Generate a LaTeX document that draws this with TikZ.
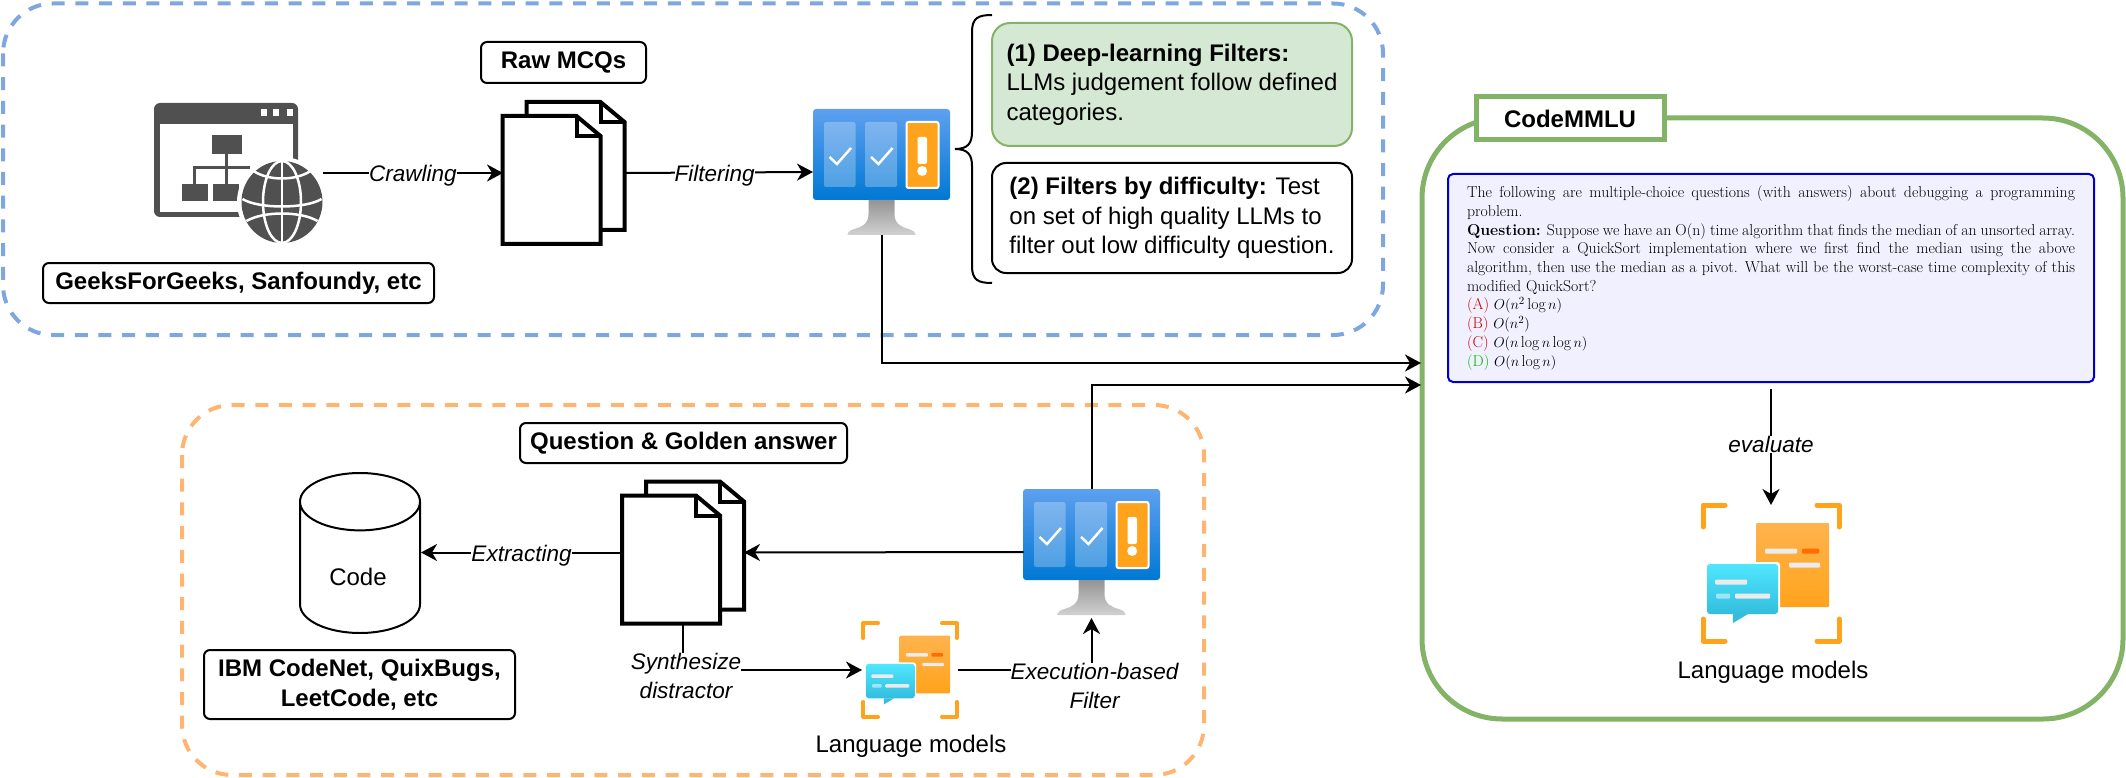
\documentclass[tikz,border=0pt]{standalone}
\usepackage{fontspec}
\usepackage{amsmath}
\usepackage{xcolor}
\usepackage{tikz}
\usetikzlibrary{arrows.meta,shapes.geometric}
\newfontfamily\diagfont{Liberation Sans}
\definecolor{dashblue}{HTML}{7EA6E0}
\definecolor{dashorange}{HTML}{FFB570}
\definecolor{framegreen}{HTML}{82B366}
\definecolor{fillgreen}{HTML}{D5E8D4}
\definecolor{iconorange}{HTML}{FFA31C}
\definecolor{iconorangetop}{HTML}{FFB34D}
\definecolor{icongray}{HTML}{505050}
\definecolor{screentop}{HTML}{5EA0EF}
\definecolor{screenbottom}{HTML}{0078D4}
\definecolor{bubbletop}{HTML}{50E6FF}
\definecolor{bubblebottom}{HTML}{32BEDD}
\definecolor{questionblue}{HTML}{0000CC}
\definecolor{questionfill}{HTML}{F0F0FF}
\definecolor{wrongred}{HTML}{CC0000}
\definecolor{rightgreen}{HTML}{00BB00}
\tikzset{
  dashgroup/.style={line width=4pt,dash pattern=on 13pt off 10.7pt,rounded corners=50pt},
  tagbox/.style={draw,line width=2pt,rounded corners=6pt,fill=white,align=center,inner sep=0pt,
    font={\diagfont\bfseries\fontsize{24}{30}\selectfont}},
  notebox/.style={rounded corners=18pt,inner sep=0pt,minimum width=360pt,align=left,
    font={\diagfont\fontsize{24}{29.7}\selectfont}},
  flowlabel/.style={fill=white,inner sep=0pt,yshift=-3pt,align=center,font={\diagfont\itshape\fontsize{22.5}{28.5}\selectfont}},
  plaintext/.style={inner sep=0pt,font={\diagfont\fontsize{24}{30}\selectfont}},
  flowline/.style={line width=2pt,-{Stealth[length=16pt,width=17pt,inset=5pt]}},
  iconspot/.style={inner sep=0pt,outer sep=0pt},
  docpair/.pic={
    \foreach \dx/\dy in {24/-14,0/0}{
      \draw[line width=4pt,fill=white] (-61+\dx,-57+\dy) -- (13+\dx,-57+\dy) -- (37+\dx,-37+\dy)
        -- (37+\dx,71+\dy) -- (-61+\dx,71+\dy) -- cycle;
      \draw[line width=4pt] (13+\dx,-57+\dy) -- (13+\dx,-37+\dy) -- (37+\dx,-37+\dy);
    }
  },
  filtericon/.pic={
    \shade[top color=screentop,bottom color=screenbottom,rounded corners=3pt] (-68.5,-63) rectangle (68.5,28);
    \shade[top color=black!42,bottom color=black!18] (-13,28) -- (-13,42) .. controls (-13,52) and (-20,55) .. (-27,57)
      .. controls (-31,58) and (-34,60) .. (-34,63) -- (34,63) .. controls (34,60) and (31,58) .. (27,57)
      .. controls (20,55) and (13,52) .. (13,42) -- (13,28) -- cycle;
    \fill[white,opacity=.27,rounded corners=2pt] (-57.5,-50) rectangle (-26,15);
    \fill[white,opacity=.27,rounded corners=2pt] (-16.5,-50) rectangle (15.5,15);
    \draw[white,line width=2pt,fill=iconorange,rounded corners=2pt] (25,-50) rectangle (57,16);
    \fill[white,rounded corners=2pt] (36,-35) rectangle (45.5,-8);
    \fill[white] (40.7,-1) circle (5pt);
    \draw[white,line width=2.5pt] (-52,-15) -- (-44.5,-8) -- (-30.5,-24);
    \draw[white,line width=2.5pt] (-10.5,-15) -- (-3,-8) -- (11,-24);
  },
  llmicon/.pic={
    \foreach \sx/\sy in {1/1,-1/1,1/-1,-1/-1}{
      \draw[iconorange,line cap=round,line join=round] (68*\sx,46*\sy) -- (68*\sx,68*\sy) -- (46*\sx,68*\sy);
    }
    \shade[top color=iconorangetop,bottom color=iconorange,rounded corners=1pt] (-15,-50) rectangle (58,34);
    \fill[white!92!black,rounded corners=1pt] (-6,-24.5) rectangle (26,-19.5);
    \fill[orange!85!red,rounded corners=1pt] (31,-24.5) rectangle (48,-19.5);
    \fill[white!92!black,rounded corners=1pt] (18,-10.5) rectangle (49,-5.5);
    \fill[white,rounded corners=3pt] (-66,-11) rectangle (9,43);
    \shade[top color=bubbletop,bottom color=bubblebottom,rounded corners=3pt] (-64,-9) rectangle (7,41);
    \shade[top color=bubblebottom,bottom color=bubblebottom] (-38,41) -- (-38,50) -- (-23,41) -- cycle;
    \fill[white!92!black,rounded corners=1pt] (-56,6.5) rectangle (-24,11.5);
    \fill[white,opacity=.5,rounded corners=1pt] (-55,20.5) rectangle (-41,25.5);
    \fill[white!92!black,rounded corners=1pt] (-36,20.5) rectangle (-1,25.5);
  },
  webicon/.pic={
    \fill[icongray,rounded corners=6pt] (-84.5,-70) rectangle (59.5,44);
    \fill[white] (-78.5,-49) rectangle (54,39);
    \foreach \dotx in {22.5,34.5,48}{
      \fill[white] (\dotx,-64) rectangle (\dotx+6,-57);
    }
    \fill[icongray] (-27,-38) rectangle (3,-19);
    \fill[icongray] (-57,11) rectangle (-31,28);
    \fill[icongray] (-25.5,11) rectangle (0.5,28);
    \draw[icongray,line width=3pt] (-12.5,-19) -- (-12.5,11);
    \draw[icongray,line width=3pt] (-44,11) -- (-44,-5) -- (11,-5);
    \fill[white] (43.5,29) circle (45pt);
    \fill[icongray] (43.5,29) ellipse (40.5pt and 41pt);
    \draw[white,line width=2.5pt] (43.5,-12) -- (43.5,70);
    \draw[white,line width=2.5pt] (43.5,29) ellipse (19pt and 41pt);
    \draw[white,line width=2.5pt] (15,-2) .. controls (30,8) and (57,8) .. (72,-2);
    \draw[white,line width=2.5pt] (4,26) .. controls (20,36) and (67,36) .. (83,26);
    \draw[white,line width=2.5pt] (8,48) .. controls (25,38) and (62,38) .. (79,48);
  }
}
\begin{document}
\begin{tikzpicture}[x=1pt,y=-1pt]
  \useasboundingbox (0,0) rectangle (2126,778);

  \draw[dashgroup,dashblue] (3,3.5) rectangle (1383,335);
  \draw[dashgroup,dashorange] (182,405) rectangle (1204,775);
  \draw[framegreen,line width=5pt,rounded corners=80pt] (1422,118) rectangle (2123,719);

  \node[iconspot,minimum width=169pt,minimum height=140pt] (crawlweb) at (238.5,173) {};
  \pic at (crawlweb) {webicon};
  \node[tagbox,minimum width=391pt,minimum height=40pt] (crawlsource) at (238.5,283) {GeeksForGeeks, Sanfoundy, etc};

  \node[iconspot,minimum width=121pt,minimum height=142pt] (rawdocs) at (563.5,173) {};
  \pic at (rawdocs) {docpair};
  \node[tagbox,minimum width=165pt,minimum height=41pt] (rawtitle) at (563.5,62.5) {Raw MCQs};

  \node[iconspot,minimum width=137pt,minimum height=126pt] (filtertop) at (881.5,172) {};
  \pic at (filtertop) {filtericon};

  \node[notebox,draw=framegreen,line width=2pt,fill=fillgreen,minimum height=123pt] (deepnote) at (1172,84.5)
    {\textbf{(1) Deep-learning Filters:}\\LLMs judgement follow defined\\categories.};
  \node[notebox,draw,line width=2pt,fill=white,minimum height=110pt,rounded corners=14pt] (hardnote) at (1172,218)
    {\textbf{(2) Filters by difficulty:} Test\\on set of high quality LLMs to\\filter out low difficulty question.};
  \coordinate (bracetip) at (955,149);
  \draw[line width=2pt] (992,15) .. controls (978,15) and (972,18) .. (972,32) -- (972,132)
    .. controls (972,143) and (968,149) .. (bracetip) (bracetip) .. controls (968,149) and (972,155) .. (972,166)
    -- (972,266) .. controls (972,280) and (978,283) .. (992,283);

  \node[iconspot,minimum width=136pt,minimum height=126pt] (filterlow) at (1091.5,552) {};
  \pic at (filterlow) {filtericon};
  \node[iconspot,minimum width=96pt,minimum height=94pt] (llmlow) at (910,670) {};
  \pic[scale=.69,line width=3.5pt] at (llmlow) {llmicon};
  \node[plaintext] (llmlowname) at (911,746) {Language models};
  \node[iconspot,minimum width=122pt,minimum height=142pt] (pairdocs) at (683,552.5) {};
  \pic at (pairdocs) {docpair};
  \node[tagbox,minimum width=327pt,minimum height=40pt] (pairtitle) at (683.5,443) {Question \& Golden answer};

  \node[draw,line width=2pt,cylinder,shape border rotate=90,aspect=1,minimum width=120pt,minimum height=160pt,
    inner sep=0pt,anchor=shape center,font={\diagfont\fontsize{24}{30}\selectfont}] (codestore) at (360,553) {\phantom{Code}};
  \node[plaintext] (codename) at (358,577) {Code};
  \node[tagbox,minimum width=311pt,minimum height=69pt] (codesource) at (359.5,684.5) {IBM CodeNet, QuixBugs,\\LeetCode, etc};

  \node[draw=questionblue,line width=2pt,fill=questionfill,rounded corners=5pt,inner xsep=19pt,inner ysep=0pt,
    minimum height=208pt,text width=608pt,align=justify,font={\fontsize{15.8}{18.7}\selectfont}] (questionbox) at (1771,278) {%
    The following are multiple-choice questions (with answers) about debugging a programming\linebreak
    problem.\\
    \textbf{Question:} Suppose we have an O(n) time algorithm that finds the median of an unsorted array.\linebreak
    Now consider a QuickSort implementation where we first find the median using the above\linebreak
    algorithm, then use the median as a pivot. What will be the worst-case time complexity of this\linebreak
    modified QuickSort?\\
    \textcolor{wrongred}{(A)} $O(n^2\log n)$\\
    \textcolor{wrongred}{(B)} $O(n^2)$\\
    \textcolor{wrongred}{(C)} $O(n\log n\log n)$\\
    \textcolor{rightgreen}{(D)} $O(n\log n)$};
  \node[draw=framegreen,line width=5pt,fill=white,minimum width=188pt,minimum height=43pt,inner sep=0pt,
    font={\diagfont\bfseries\fontsize{24}{30}\selectfont}] (benchname) at (1570,118.5) {CodeMMLU};

  \node[iconspot,minimum width=136pt,minimum height=136pt] (llmhigh) at (1771,573) {};
  \pic[line width=5pt] at (llmhigh) {llmicon};
  \node[plaintext] (llmhighname) at (1773,672) {Language models};

  \coordinate (benchinA) at (1421,363);
  \coordinate (benchinB) at (1421,385);

  \draw[flowline] (crawlweb.east) -- (rawdocs.west) node[flowlabel,pos=.5] (crawltext) {Crawling};
  \draw[flowline] (rawdocs.east) -- (filtertop.west) node[flowlabel,pos=.48] (filtertext) {Filtering};
  \draw[flowline] (filtertop.south) |- (benchinA);
  \draw[flowline] (filterlow.north) |- (benchinB);
  \draw[flowline] (filterlow.west) -- (pairdocs.east);
  \draw[flowline] (pairdocs.west) -- (pairdocs.west -| codestore.east) node[flowlabel,pos=.5] (extracttext) {Extracting};
  \draw[flowline] (pairdocs.south) |- (llmlow.west) node[flowlabel,pos=.5,xshift=3pt,yshift=-3pt] (distracttext) {Synthesize\\distractor};
  \draw[flowline] (llmlow.east) -| ([yshift=-3pt]filterlow.south) node[flowlabel,pos=.5,xshift=3pt,yshift=-13pt] (exectext) {Execution-based\\Filter};
  \draw[flowline,shorten <=6pt] (questionbox.south) -- (llmhigh.north) node[flowlabel,pos=.48] (evaltext) {evaluate};
\end{tikzpicture}
\end{document}
